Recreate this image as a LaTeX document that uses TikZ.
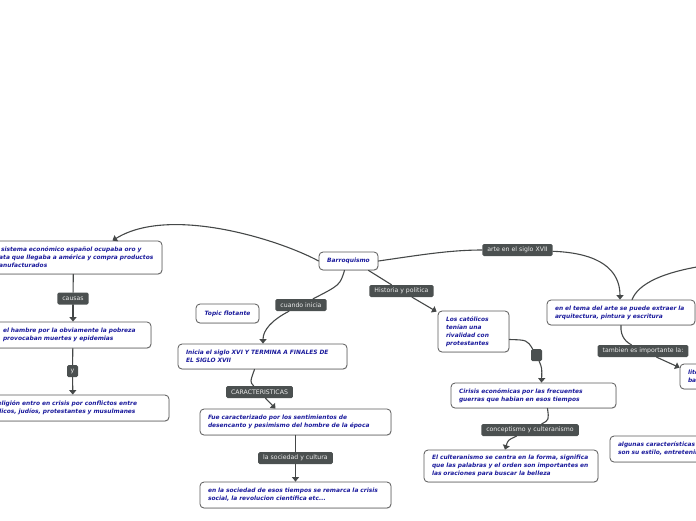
\documentclass[tikz,border=0pt]{standalone}
\usepackage{fontspec}
\setmainfont{DejaVu Sans}
\usetikzlibrary{arrows.meta, calc, positioning, shadows}
\definecolor{topicblue}{HTML}{1A1A9C}
\definecolor{linkgrey}{HTML}{454848}
\definecolor{labelgrey}{HTML}{4B5050}
\definecolor{boxline}{HTML}{5A5A5A}

\begin{document}
\begin{tikzpicture}[x=1pt,y=-1pt,line cap=round,line join=round,>={Triangle[width=7pt,length=4.5pt]},
  topic/.style={draw=boxline, fill=white, line width=0.8pt, rounded corners=4pt,
    inner xsep=8pt, inner ysep=2pt, align=left, text=topicblue,
    font=\fontsize{5.9}{8}\selectfont\bfseries\itshape,
    drop shadow={shadow xshift=0.5pt, shadow yshift=-0.8pt, opacity=0.25}},
  linklabel/.style={fill=labelgrey, rounded corners=1.5pt, text=white!92!black,
    font=\fontsize{6.2}{7}\selectfont, inner xsep=5pt, inner ysep=0pt, minimum height=12pt},
  link/.style={draw=linkgrey, line width=1.1pt}]
\useasboundingbox (0,0) rectangle (696,520);
\clip (0,0) rectangle (696,520);

% Central topic
\node [topic, align=center, minimum width=59pt, minimum height=18pt] (barroco) at (348.5,261) {Barroquismo};
\node [topic, align=center, minimum width=63pt, minimum height=19pt] (flotante) at (227.5,313.5) {Topic flotante};

% Left branch
\node [topic, text width=161pt, minimum height=33pt] (sistema) at (73.5,257.5) {El sistema económico español ocupaba oro y\\plata que llegaba a américa y compra productos\\manufacturados};
\node [topic, text width=140pt, minimum height=26pt] (hambre) at (73,335) {el hambre por la obviamente la pobreza\\provocaban muertes y epidemias};
\node [topic, text width=176pt, minimum height=26pt] (religion) at (73,408) {La religión entro en crisis por conflictos entre\\católicos, judíos, protestantes y musulmanes};

% Middle branch
\node [topic, text width=153pt, minimum height=25pt] (inicia) at (262.5,356.5) {Inicia el siglo XVI Y TERMINA A FINALES DE\\EL SIGLO XVII};
\node [topic, text width=175pt, minimum height=26pt] (fue) at (295.5,422) {Fue caracterizado por los sentimientos de\\desencanto y pesimismo del hombre de la época};
\node [topic, text width=175pt, minimum height=26pt] (sociedad) at (295.5,495) {en la sociedad de esos tiempos se remarca la crisis\\social, la revolucion científica etc...};

% Historia y politica
\node [topic, text width=55pt, minimum height=41pt] (catolicos) at (473.5,331.5) {Los católicos\\tenían una\\rivalidad con\\protestantes};
\node [topic, text width=149pt, minimum height=25pt] (crisis) at (533.5,395.5) {Cirisis económicas por las frecuentes\\guerras que habian en esos tiempos};
\node [topic, text width=158pt, minimum height=32pt] (cult) at (511,466) {El culteranismo se centra en la forma, significa\\que las palabras y el orden son importantes en\\las oraciones para buscar la belleza};

% Arte
\node [topic, text width=132pt, minimum height=25pt] (arte) at (621,312.5) {en el tema del arte se puede extraer la\\arquitectura, pintura y escritura};
\node [topic, text width=64pt, minimum height=25pt] (literatura) at (720,376.5) {literatura\\barroca};
\node [topic, text width=154pt, minimum height=26pt] (algunas) at (695,449) {algunas características\\son su estilo, entretenimiento};
\coordinate (offright) at (725,263);

% Labels
\node [linklabel] (causas) at (73,298.5) {causas};
\node [linklabel, inner xsep=3pt, minimum width=11pt] (ylbl) at (72.5,371) {y};
\node [linklabel] (cuando) at (301,305) {cuando inicia};
\node [linklabel] (historia) at (401.5,291) {Historia y politica};
\node [linklabel] (caract) at (259.5,392) {CARACTERISTICAS};
\node [linklabel] (socl) at (295.5,458) {la sociedad y cultura};
\node [linklabel, minimum width=11pt] (sq) at (536.5,355) {};
\node [linklabel] (concept) at (530,430) {conceptismo y culteranismo};
\node [linklabel] (artelbl) at (517.5,250) {arte en el siglo XVII};
\node [linklabel] (tambien) at (643,351) {tambien es importante la:};

% Connectors
\draw [link,->] (barroco.west) .. controls (280,240) and (170,205) .. ([xshift=39pt]sistema.north);
\foreach \a/\b/\c in {sistema/causas/hambre, hambre/ylbl/religion, fue/socl/sociedad} {
  \draw [link] (\a) -- (\b);
  \draw [link,->] (\b) -- (\c);
}
\draw [link] ([xshift=-4pt]barroco.south) .. controls (340,285) .. (cuando);
\draw [link,->] (cuando) .. controls (272,320) and (263,330) .. ([xshift=0.5pt]inicia.north);
\draw [link] ([xshift=-8pt]inicia.south) .. controls (250,382) .. (caract);
\draw [link,->] (caract) -- ([xshift=-20pt]fue.north);
\draw [link] ([xshift=20pt]barroco.south) -- (historia);
\draw [link,->] (historia) -- ([xshift=-1pt,yshift=-1pt]catolicos.north west);
\draw [link] ([yshift=-8pt]catolicos.east) .. controls (527,340) .. (sq);
\draw [link,->] (sq) .. controls (542,368) .. ([xshift=8pt]crisis.north);
\draw [link] ([xshift=14pt]crisis.south) .. controls (549,420) .. (concept);
\draw [link,->] (concept) .. controls (508,440) .. ([xshift=-6pt]cult.north);
\draw [link] (barroco.east) .. controls (420,255) and (450,250) .. (artelbl);
\draw [link,->] (artelbl) .. controls (600,253) and (620,270) .. ([xshift=-1pt]arte.north);
\draw [link] ([xshift=11pt]arte.north) .. controls (638,285) and (660,270) .. (offright);
\draw [link] (arte.south) .. controls (620,338) and (628,343) .. (tambien);
\draw [link,->] (tambien) .. controls (665,361) .. ([yshift=-4pt]literatura.north west);
\end{tikzpicture}
\end{document}
